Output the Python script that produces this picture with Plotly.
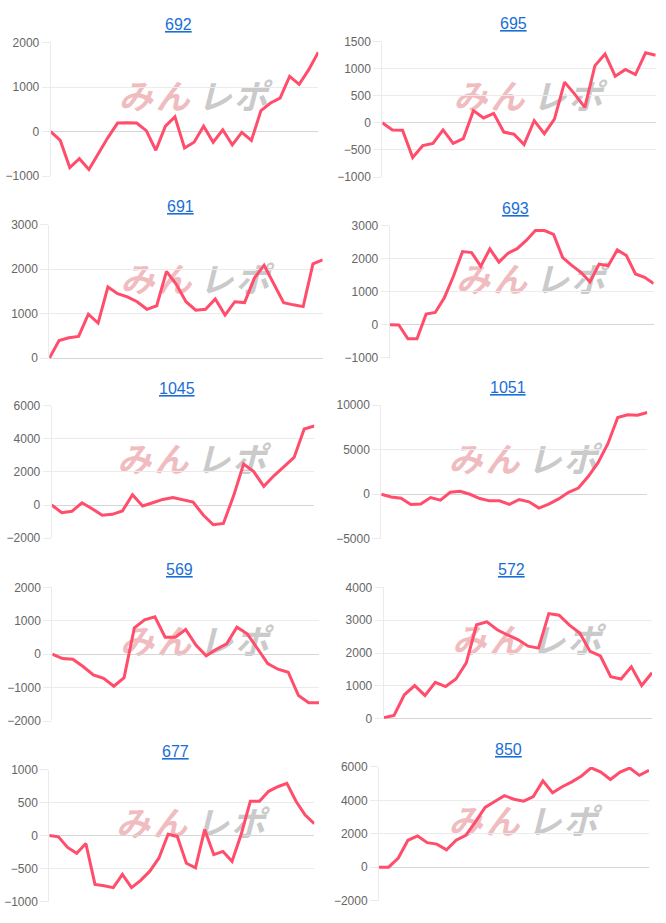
import plotly.graph_objects as go

# ---------------- data ----------------
titles = ["692", "695", "691", "693", "1045", "1051", "569", "572", "677", "850"]

s692 = [0, -200, -810, -610, -850, -480, -130, 190, 200, 190, 20, -420, 120, 330, -370,
        -240, 120, -240, 40, -300, -20, -200, 470, 640, 750, 1240, 1060, 1390, 1780]
s695 = [0, -130, -135, -640, -420, -380, -130, -380, -290, 225, 90, 175, -170, -210, -400,
        40, -200, 70, 750, 530, 285, 1055, 1270, 860, 985, 890, 1290, 1245]
s691 = [0, 400, 460, 490, 990, 790, 1600, 1450, 1380, 1270, 1100, 1180, 1950, 1660, 1270,
        1080, 1100, 1330, 970, 1270, 1250, 1800, 2090, 1660, 1250, 1200, 1160, 2120, 2210]
s693 = [0, -10, -430, -430, 320, 370, 820, 1470, 2220, 2190, 1770, 2300, 1900, 2170, 2310,
        2560, 2860, 2860, 2740, 2040, 1800, 1590, 1300, 1840, 1790, 2270, 2100, 1540, 1440, 1250]
s1045 = [0, -460, -380, 140, -220, -620, -560, -360, 620, -60, 140, 340, 460, 300, 180,
         -600, -1190, -1110, 540, 2480, 2020, 1130, 1770, 2320, 2880, 4600, 4780]
s1051 = [0, -300, -440, -1140, -1100, -370, -660, 220, 330, 0, -480, -740, -740, -1140,
         -590, -850, -1550, -1100, -520, 220, 700, 1990, 3540, 5680, 8620, 8920, 8880, 9180]
s569 = [0, -130, -150, -370, -620, -720, -960, -700, 790, 1030, 1120, 510, 510, 740, 270,
        -50, 150, 310, 810, 610, 170, -280, -450, -540, -1240, -1450, -1450]
s572 = [30, 100, 730, 1010, 710, 1110, 980, 1210, 1700, 2860, 2950, 2710, 2550, 2410, 2210,
        2150, 3200, 3150, 2850, 2610, 2050, 1910, 1280, 1210, 1580, 1010, 1400]
s677 = [0, -20, -180, -270, -120, -740, -760, -790, -590, -790, -680, -540, -340, 20, -10,
        -420, -490, 90, -290, -240, -390, 20, 520, 520, 670, 740, 790, 520, 310, 180]
s850 = [0, 0, 550, 1610, 1870, 1470, 1380, 1040, 1610, 1910, 2710, 3580, 3930, 4280, 4070,
        3950, 4230, 5170, 4460, 4820, 5110, 5460, 5950, 5700, 5250, 5700, 5940, 5500, 5800]

series = [s692, s695, s691, s693, s1045, s1051, s569, s572, s677, s850]

y_min = [-1000, -1000, 0, -1000, -2000, -5000, -2000, 0, -1000, -2000]
y_max = [2000, 1500, 3000, 3000, 6000, 10000, 2000, 4000, 1000, 6000]
y_step = [1000, 500, 1000, 1000, 2000, 5000, 1000, 1000, 500, 2000]

watermark_chars = ["み", "ん", "レ", "ポ"]

# ---------------- layout constants (pixels) ----------------
W, H = 666, 923
# (left, right, top, bottom) of each plot area in pixels
boxes = [(50.7, 318.3, 36, 171.7), (382.3, 655.7, 35, 172.7),
         (49.3, 322.7, 221, 356.7), (389.7, 653.7, 222.3, 356),
         (51.7, 314.3, 405, 539.3), (381.3, 647.3, 404.3, 540),
         (52.3, 319, 589.3, 725), (383.7, 652, 589.3, 722.7),
         (49.3, 314.3, 774.3, 908.3), (379, 649, 771.7, 907.3)]

LINE_COLOR = "#ff4d6b"
GRID = "#ebebeb"
ZERO = "#d6d6d6"
TICK_FONT = dict(family="Liberation Sans, Arial, Helvetica, sans-serif", size=12, color="#666666")
WM_OFFSETS = [-58, -21, 21, 57]
WM_COLORS = ["#f0bcc0", "#f0bcc0", "#cacaca", "#cacaca"]


def px_x(v):
    return v / W


def px_y(v):
    return 1 - v / H


fig = go.Figure()
annotations = []
shapes = []
layout = {}

for i, (name, vals) in enumerate(zip(titles, series)):
    k = "" if i == 0 else str(i + 1)
    l, r, t, b = boxes[i]
    fig.add_trace(go.Scatter(
        x=list(range(len(vals))), y=vals, mode="lines",
        line=dict(color=LINE_COLOR, width=3),
        xaxis="x" + k, yaxis="y" + k, hoverinfo="skip", showlegend=False,
    ))
    layout["xaxis" + k] = dict(
        domain=[px_x(l), px_x(r)], anchor="y" + k, range=[0, len(vals) - 1],
        visible=False, showgrid=False, zeroline=False, fixedrange=True,
    )
    layout["yaxis" + k] = dict(
        domain=[px_y(b), px_y(t)], anchor="x" + k, range=[y_min[i], y_max[i]],
        tick0=0, dtick=y_step[i], tickformat="d",
        showgrid=True, gridcolor=GRID, gridwidth=1,
        zeroline=True, zerolinecolor=ZERO, zerolinewidth=1,
        showline=True, linecolor=GRID, linewidth=1,
        ticks="outside", ticklen=8, tickcolor=GRID, tickwidth=1,
        tickfont=TICK_FONT, ticklabelstandoff=0, fixedrange=True,
    )
    cx = (l + r) / 2
    annotations.append(dict(
        text="<u>" + name + "</u>", x=px_x(cx - 6), y=px_y(t - 18),
        xref="paper", yref="paper", xanchor="center", yanchor="middle",
        showarrow=False,
        font=dict(family="Liberation Sans, Arial, Helvetica, sans-serif", size=16, color="#1a6fd6"),
    ))
    wx = l + 0.535 * (r - l)
    wy = t + 0.43 * (b - t)
    for ch, off, col in zip(watermark_chars, WM_OFFSETS, WM_COLORS):
        shapes.append(dict(
            type="rect", xref="paper", yref="paper", layer="below",
            x0=px_x(wx + off - 20), x1=px_x(wx + off + 20),
            y0=px_y(wy + 16), y1=px_y(wy - 16),
            line=dict(width=0), fillcolor="rgba(0,0,0,0)",
            label=dict(text="<b><i>" + ch + "</i></b>", textposition="middle center",
                       font=dict(family="Noto Sans CJK JP", size=34, color=col)),
        ))

fig.update_layout(
    width=W, height=H, margin=dict(l=0, r=0, t=0, b=0),
    paper_bgcolor="white", plot_bgcolor="rgba(0,0,0,0)",
    showlegend=False, annotations=annotations, shapes=shapes, **layout,
)

fig.write_html("out.html")
